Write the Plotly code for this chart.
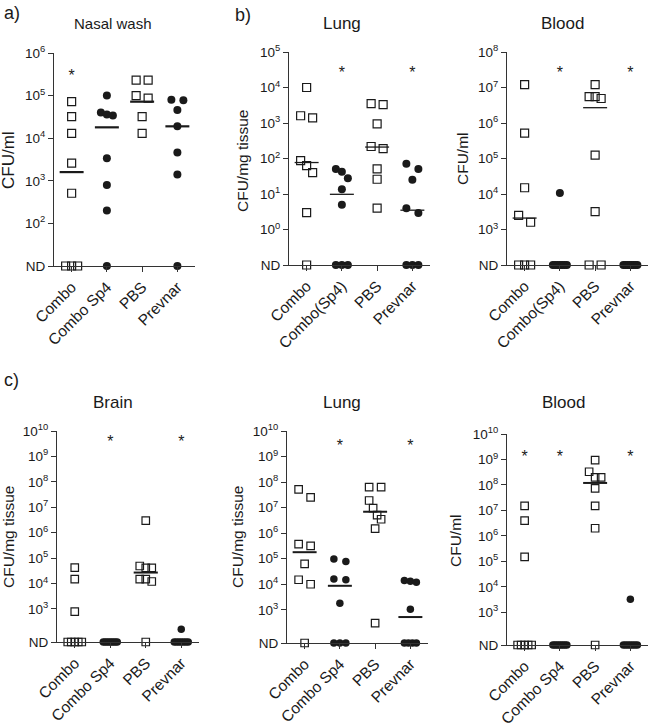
import numpy as np
import plotly.graph_objects as go

W, H = 650, 726

cats_a = ["Combo", "Combo Sp4", "PBS", "Prevnar"]
cats_b = ["Combo", "Combo(Sp4)", "PBS", "Prevnar"]
cats_c = ["Combo", "Combo Sp4", "PBS", "Prevnar"]

# CFU values; 0 = not detected (ND)
# a) Nasal wash (CFU/ml)
nasal_combo = [72000, 32000, 13000, 2600, 510, 0, 0, 0]
nasal_sp4 = [100000, 40000, 36000, 34000, 3400, 800, 200, 0]
nasal_pbs = [230000, 230000, 100000, 87000, 32000, 13000]
nasal_prevnar = [80000, 78000, 46000, 19000, 4600, 1400, 0]
nasal_median = [1600, 18000, 72000, 19000]
nasal_sig = [1, 0, 0, 0]

# b) Lung (CFU/mg tissue)
lung_b_combo = [10000, 1600, 1400, 87, 63, 40, 3, 0]
lung_b_sp4 = [51, 42, 28, 13.6, 5, 0, 0, 0]
lung_b_pbs = [3500, 3300, 940, 218, 190, 51, 26, 4]
lung_b_prevnar = [71, 51, 25, 4.0, 2.9, 0, 0, 0]
lung_b_median = [77, 9.8, 210, 3.5]
lung_b_sig = [0, 1, 0, 1]

# b) Blood (CFU/ml)
blood_b_combo = [12000000, 520000, 15000, 2500, 1600, 0, 0, 0]
blood_b_sp4 = [10700, 0, 0, 0, 0, 0, 0, 0]
blood_b_pbs = [12000000, 5500000, 5500000, 4900000, 125000, 3200, 0, 0]
blood_b_prevnar = [0, 0, 0, 0, 0, 0, 0, 0]
blood_b_median = [2100, None, 2700000, None]
blood_b_sig = [0, 1, 0, 1]

# c) Brain (CFU/mg tissue)
brain_combo = [42000, 15000, 790, 0, 0, 0, 0, 0]
brain_sp4 = [0, 0, 0, 0, 0, 0, 0, 0]
brain_pbs = [3000000, 49000, 41000, 41000, 15000, 15000, 12000, 0]
brain_prevnar = [160, 0, 0, 0, 0, 0, 0, 0]
brain_median = [None, None, 27000, None]
brain_sig = [0, 1, 0, 1]

# c) Lung (CFU/mg tissue)
lung_c_combo = [52000000, 25000000, 370000, 320000, 63000, 15000, 10000, 0]
lung_c_sp4 = [98000, 78000, 16000, 15000, 1800, 0, 0, 0]
lung_c_pbs = [63000000, 63000000, 19000000, 9500000, 5100000, 3500000, 1500000, 300]
lung_c_prevnar = [14000, 13000, 12000, 1050, 0, 0, 0, 0]
lung_c_median = [180000, 8700, 6900000, 520]
lung_c_sig = [0, 1, 0, 1]

# c) Blood (CFU/ml)
blood_c_combo = [15000000, 4000000, 150000, 0, 0, 0, 0, 0]
blood_c_sp4 = [0, 0, 0, 0, 0, 0, 0, 0]
blood_c_pbs = [950000000, 330000000, 200000000, 200000000, 74000000, 15000000, 2000000, 0]
blood_c_prevnar = [3300, 0, 0, 0, 0, 0, 0, 0]
blood_c_median = [None, None, 120000000, None]
blood_c_sig = [1, 1, 0, 1]

FONT = "Liberation Sans, Arial, sans-serif"
INK = "#1a1a1a"

panels = [
    dict(groups=[nasal_combo, nasal_sp4, nasal_pbs, nasal_prevnar], med=nasal_median, sig=nasal_sig,
         cats=cats_a, x0=54, x1=195, yt=53, yb=266, nd=1.0, top=6, low=2, ms=8, mw=2.2, star=5.53,
         title="Nasal wash", tsize=15, tpos=(113, 23), ylab="CFU/ml", lsize=17, lpos=(8, 160)),
    dict(groups=[lung_b_combo, lung_b_sp4, lung_b_pbs, lung_b_prevnar], med=lung_b_median, sig=lung_b_sig,
         cats=cats_b, x0=289, x1=430, yt=52, yb=265, nd=-1.0, top=5, low=0, ms=8, mw=1.3, star=4.47,
         title="Lung", tsize=17, tpos=(342, 23), ylab="CFU/mg tissue", lsize=15.5, lpos=(242, 160)),
    dict(groups=[blood_b_combo, blood_b_sp4, blood_b_pbs, blood_b_prevnar], med=blood_b_median, sig=blood_b_sig,
         cats=cats_b, x0=507, x1=648, yt=52, yb=265, nd=2.0, top=8, low=3, ms=8, mw=1.3, star=7.47,
         title="Blood", tsize=17, tpos=(562, 23), ylab="CFU/ml", lsize=15.5, lpos=(462, 159)),
    dict(groups=[brain_combo, brain_sp4, brain_pbs, brain_prevnar], med=brain_median, sig=brain_sig,
         cats=cats_c, x0=57, x1=199, yt=431, yb=642, nd=1.7, top=10, low=3, ms=7.5, mw=2, star=9.65,
         title="Brain", tsize=17, tpos=(113, 402), ylab="CFU/mg tissue", lsize=15.5, lpos=(8, 537)),
    dict(groups=[lung_c_combo, lung_c_sp4, lung_c_pbs, lung_c_prevnar], med=lung_c_median, sig=lung_c_sig,
         cats=cats_c, x0=287, x1=428, yt=431, yb=643, nd=1.7, top=10, low=3, ms=7.5, mw=2, star=9.52,
         title="Lung", tsize=17, tpos=(342, 402), ylab="CFU/mg tissue", lsize=15.5, lpos=(237, 537)),
    dict(groups=[blood_c_combo, blood_c_sp4, blood_c_pbs, blood_c_prevnar], med=blood_c_median, sig=blood_c_sig,
         cats=cats_c, x0=507, x1=648, yt=434, yb=645, nd=1.72, top=10, low=3, ms=7.5, mw=2, star=9.21,
         title="Blood", tsize=17, tpos=(563, 402), ylab="CFU/ml", lsize=15.5, lpos=(455, 540)),
]

letters = [("a)", 2, 13), ("b)", 233, 15), ("c)", 2, 380)]


def spread(logs, ppd, ppu):
    logs = np.asarray(logs, float)
    order = np.argsort(-logs, kind="stable")
    offs = np.zeros(len(logs))
    clusters, cur = [], [order[0]] if len(order) else []
    for a, b in zip(order[:-1], order[1:]):
        if (logs[a] - logs[b]) * ppd > 8.5:
            clusters.append(cur)
            cur = [b]
        else:
            cur.append(b)
    if cur:
        clusters.append(cur)
    for cl in clusters:
        n = len(cl)
        if n > 1:
            span = 12 if n <= 4 else 14
            for k, idx in enumerate(cl):
                offs[idx] = (-span / 2 + span * k / (n - 1)) / ppu
    return offs


fig = go.Figure()
layout = dict(width=W, height=H, margin=dict(l=0, r=0, t=0, b=0, autoexpand=False), showlegend=False,
              plot_bgcolor="rgba(0,0,0,0)", paper_bgcolor="white",
              font=dict(family=FONT, color=INK, size=13))
annotations = []
EPS = 1e-4

for i, p in enumerate(panels):
    n = i + 1
    xa = "x" if n == 1 else f"x{n}"
    ya = "y" if n == 1 else f"y{n}"
    ppd = (p["yb"] - p["yt"]) / (p["top"] - p["nd"])
    ppu = (p["x1"] - p["x0"]) / 4.0
    for g, vals in enumerate(p["groups"]):
        vals = np.asarray(vals, float)
        logs = np.where(vals > 0, np.log10(np.where(vals > 0, vals, 1)), p["nd"])
        xs = g + spread(logs, ppd, ppu)
        ys = 10 ** np.maximum(logs, p["nd"] + EPS)
        open_sym = g in (0, 2)
        fig.add_trace(go.Scatter(
            x=xs, y=ys, mode="markers", xaxis=xa, yaxis=ya, cliponaxis=False,
            marker=dict(symbol="square-open" if open_sym else "circle",
                        size=p["ms"], color=INK,
                        line=dict(width=1.2 if open_sym else 0, color=INK))))
        m = p["med"][g]
        if m is not None:
            fig.add_trace(go.Scatter(
                x=[g - 0.34, g + 0.34], y=[m, m], mode="lines", xaxis=xa, yaxis=ya,
                cliponaxis=False, line=dict(color=INK, width=p["mw"])))
    sx = [g for g, s in enumerate(p["sig"]) if s]
    if sx:
        sy = p["star"] - 3.5 / ppd
        fig.add_trace(go.Scatter(
            x=sx, y=[10 ** sy] * len(sx), mode="text", text=["*"] * len(sx),
            textfont=dict(size=16, color=INK, family=FONT), xaxis=xa, yaxis=ya, cliponaxis=False))

    tickvals = [10 ** (p["nd"] + EPS)] + [10 ** k for k in range(p["low"], p["top"] + 1)]
    ticktext = ["ND"] + [f"10<sup>{k}</sup>" for k in range(p["low"], p["top"] + 1)]
    key_x = "xaxis" if n == 1 else f"xaxis{n}"
    key_y = "yaxis" if n == 1 else f"yaxis{n}"
    layout[key_x] = dict(domain=[p["x0"] / W, p["x1"] / W], anchor=ya, range=[-0.5, 3.5],
                         tickvals=[0, 1, 2, 3], ticktext=p["cats"], tickangle=-45,
                         showline=True, linecolor="#333", linewidth=1, ticks="outside",
                         ticklen=5, tickcolor="#333", showgrid=False, zeroline=False,
                         automargin=False,
                         tickfont=dict(size=15.5, family=FONT, color=INK), fixedrange=True)
    layout[key_y] = dict(domain=[1 - p["yb"] / H, 1 - p["yt"] / H], anchor=xa, type="log",
                         range=[p["nd"], p["top"]], tickvals=tickvals, ticktext=ticktext,
                         showline=True, linecolor="#333", linewidth=1, ticks="outside",
                         ticklen=5, tickcolor="#333", showgrid=False, zeroline=False,
                         automargin=False,
                         tickfont=dict(size=13.5, family=FONT, color=INK), fixedrange=True)
    annotations.append(dict(text=p["title"], x=p["tpos"][0] / W, y=1 - p["tpos"][1] / H,
                            xref="paper", yref="paper", showarrow=False, xanchor="center",
                            yanchor="middle", font=dict(size=p["tsize"], family=FONT, color=INK)))
    annotations.append(dict(text=p["ylab"], x=p["lpos"][0] / W, y=1 - p["lpos"][1] / H,
                            xref="paper", yref="paper", showarrow=False, xanchor="center",
                            yanchor="middle", textangle=-90,
                            font=dict(size=p["lsize"], family=FONT, color=INK)))

for t, lx, ly in letters:
    annotations.append(dict(text=t, x=lx / W, y=1 - ly / H, xref="paper", yref="paper",
                            showarrow=False, xanchor="left", yanchor="middle",
                            font=dict(size=18, family=FONT, color=INK)))

layout["annotations"] = annotations
fig.update_layout(**layout)
fig.write_html("out.html", config={"displayModeBar": False},
               post_script="document.body.style.margin='0px';document.body.style.padding='0px';document.body.style.overflow='hidden';")
